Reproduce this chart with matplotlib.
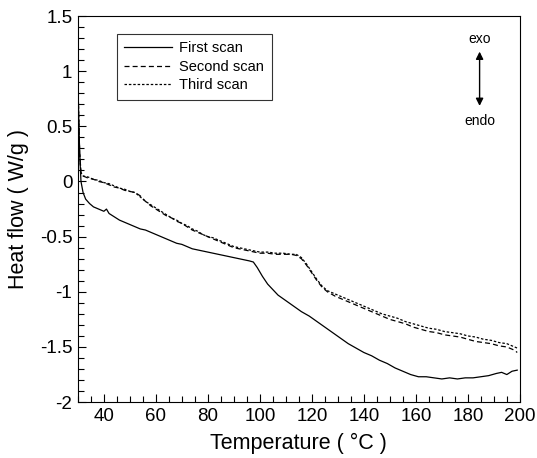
import matplotlib
matplotlib.use("Agg")
import matplotlib.pyplot as plt
from matplotlib.ticker import MultipleLocator, FuncFormatter

plt.rcParams['font.family'] = ['Liberation Sans', 'DejaVu Sans']

t1 = [30, 30.3, 30.7, 31.2, 32, 33, 34.5, 36, 38, 40, 41, 42, 44, 46, 48, 50, 52, 54, 56, 58,
      60, 62, 64, 66, 68, 70, 72, 74, 76, 78, 80, 82, 84, 86, 88, 90, 92, 94, 96, 97.5,
      99, 101, 103, 105, 107, 110, 113, 116, 119, 122, 125, 128, 131, 134, 137, 140, 143,
      146, 149, 152, 155, 158, 161, 164, 167, 170, 173, 176, 179, 182, 185, 188, 191, 193,
      195, 197, 199]
first = [0.95, 0.6, 0.25, 0.0, -0.1, -0.16, -0.2, -0.23, -0.25, -0.27, -0.25, -0.29, -0.32,
         -0.35, -0.37, -0.39, -0.41, -0.43, -0.44, -0.46, -0.48, -0.5, -0.52, -0.54, -0.56,
         -0.57, -0.59, -0.61, -0.62, -0.63, -0.64, -0.65, -0.66, -0.67, -0.68, -0.69, -0.7,
         -0.71, -0.72, -0.73, -0.78, -0.86, -0.93, -0.98, -1.03, -1.08, -1.13, -1.18, -1.22,
         -1.27, -1.32, -1.37, -1.42, -1.47, -1.51, -1.55, -1.58, -1.62, -1.65, -1.69, -1.72,
         -1.75, -1.77, -1.77, -1.78, -1.79, -1.78, -1.79, -1.78, -1.78, -1.77, -1.76, -1.74,
         -1.73, -1.75, -1.72, -1.71]

t2 = [30, 30.3, 30.7, 31.2, 32, 34, 36, 38, 40, 42, 44, 46, 48, 50, 52, 54, 56, 58, 60, 62,
      64, 66, 68, 70, 72, 74, 76, 78, 80, 82, 84, 86, 88, 90, 92, 94, 96, 98, 100, 103, 106,
      109, 112, 114, 116, 118, 120, 122, 124, 126, 129, 132, 135, 138, 141, 144, 147, 150,
      153, 156, 159, 162, 165, 168, 171, 174, 177, 180, 183, 186, 189, 192, 195, 198, 199]
second = [1.0, 0.6, 0.25, 0.08, 0.05, 0.03, 0.02, 0.0, -0.01, -0.03, -0.05, -0.06, -0.08,
          -0.09, -0.1, -0.13, -0.18, -0.22, -0.25, -0.28, -0.31, -0.33, -0.36, -0.38, -0.41,
          -0.44, -0.46, -0.48, -0.5, -0.52, -0.54, -0.56, -0.58, -0.6, -0.61, -0.62, -0.63,
          -0.64, -0.65, -0.65, -0.66, -0.66, -0.66, -0.67, -0.7, -0.76, -0.83, -0.9, -0.96,
          -1.0, -1.04, -1.07, -1.1, -1.13, -1.16, -1.19, -1.22, -1.25, -1.27, -1.29, -1.32,
          -1.34, -1.36, -1.37, -1.39, -1.4, -1.41, -1.43, -1.45, -1.46, -1.47, -1.49, -1.5,
          -1.53, -1.55]
third = [1.0, 0.6, 0.25, 0.08, 0.05, 0.04, 0.02, 0.01, -0.01, -0.02, -0.04, -0.06, -0.07,
         -0.09, -0.1, -0.14, -0.18, -0.21, -0.24, -0.27, -0.3, -0.33, -0.35, -0.38, -0.4,
         -0.43, -0.45, -0.48, -0.5, -0.51, -0.53, -0.55, -0.57, -0.59, -0.6, -0.61, -0.62,
         -0.63, -0.64, -0.64, -0.65, -0.65, -0.66, -0.66, -0.69, -0.75, -0.82, -0.89, -0.95,
         -0.99, -1.02, -1.05, -1.08, -1.11, -1.14, -1.17, -1.2, -1.22, -1.24, -1.27, -1.29,
         -1.31, -1.33, -1.34, -1.36, -1.37, -1.38, -1.4, -1.41, -1.43, -1.44, -1.46, -1.47,
         -1.5, -1.51]

fig = plt.figure(figsize=(5.37, 4.58), dpi=100)
ax = fig.add_axes([0.145, 0.122, 0.823, 0.843])

ax.plot(t1, first, color='black', lw=0.9, ls='-', label='First scan')
ax.plot(t2, second, color='black', lw=0.9, ls=(0, (4, 2.5)), label='Second scan')
ax.plot(t2, third, color='black', lw=0.9, ls=(0, (2, 1.5)), label='Third scan')

ax.set_xlim(30, 200)
ax.set_ylim(-2, 1.5)
ax.xaxis.set_major_locator(MultipleLocator(20))
ax.xaxis.set_minor_locator(MultipleLocator(5))
ax.yaxis.set_major_locator(MultipleLocator(0.5))
ax.yaxis.set_minor_locator(MultipleLocator(0.1))
ax.yaxis.set_major_formatter(FuncFormatter(lambda v, p: ('%g' % v).replace('\u2212', '-')))
ax.xaxis.set_major_formatter(FuncFormatter(lambda v, p: '%g' % v if v >= 40 else ''))
ax.tick_params(which='both', direction='in', top=False, right=False, labelsize=13.5)
ax.tick_params(which='major', length=6, width=0.8, pad=4)
ax.tick_params(which='minor', length=4, width=0.8)
for s in ax.spines.values():
    s.set_linewidth(0.8)

ax.set_xlabel('Temperature ( °C )', fontsize=15.5, labelpad=6)
ax.set_ylabel('Heat flow ( W/g )', fontsize=15.5, labelpad=8)

leg = ax.legend(loc='upper left', bbox_to_anchor=(0.088, 0.953), fontsize=10.5,
                handlelength=3.3, frameon=True, fancybox=False, edgecolor='black',
                borderpad=0.5, labelspacing=0.3, handletextpad=0.5, borderaxespad=0)
leg.get_frame().set_linewidth(0.8)

ax.annotate('', xy=(0.909, 0.915), xytext=(0.909, 0.76), xycoords='axes fraction',
            arrowprops=dict(arrowstyle='<|-|>', color='black', lw=1.0, mutation_scale=11))
ax.text(0.909, 0.94, 'exo', transform=ax.transAxes, ha='center', va='center', fontsize=10)
ax.text(0.909, 0.727, 'endo', transform=ax.transAxes, ha='center', va='center', fontsize=10)

fig.savefig('out.png', dpi=100)
